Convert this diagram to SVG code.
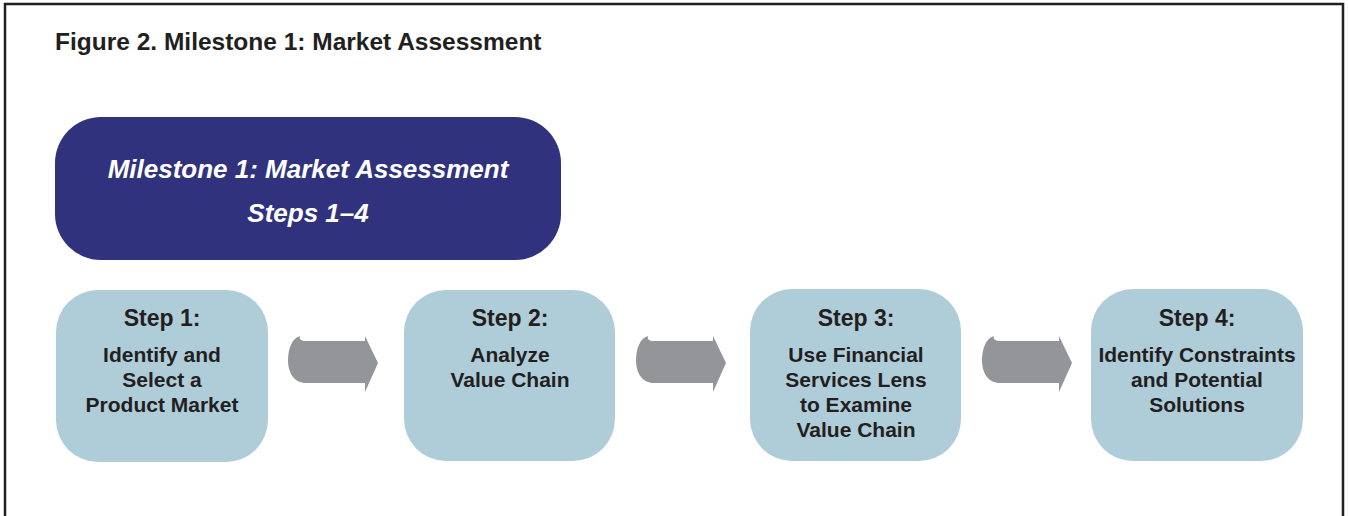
<svg xmlns="http://www.w3.org/2000/svg" width="1348" height="516" viewBox="0 0 1348 516">
<defs>
<style>
.frame{fill:none;stroke:#231f20;stroke-width:2.5}
.title{font-family:"Liberation Sans",Arial,sans-serif;font-weight:bold;font-size:24.5px;fill:#231f20}
.ms{fill:#31327d}
.mst{font-family:"Liberation Sans",Arial,sans-serif;font-weight:bold;font-style:italic;font-size:26px;fill:#ffffff;text-anchor:middle}
.step{fill:#afcdd9}
.st{font-family:"Liberation Sans",Arial,sans-serif;font-weight:bold;font-size:21px;fill:#231f20;text-anchor:middle}
.sh{font-size:23px}
.arr{fill:#939598}
</style>
<path id="arrow" d="M12,0 C4,2 0,13 0,24 C0,38 7,47 18,47 L77,47 L77,56 L90,27 L77,0 L77,5 L18,5 C13,5 11,3 12,0 Z"/>
</defs>
<rect width="1348" height="516" fill="#ffffff"/>
<path class="frame" d="M5,520 L5,4 L1343,4 L1343,520"/>
<text class="title" x="55" y="50">Figure 2. Milestone 1: Market Assessment</text>

<g id="milestone">
<rect class="ms" x="55" y="117" width="506" height="143" rx="46" ry="46"/>
<text class="mst" x="308" y="178">Milestone 1: Market Assessment</text>
<text class="mst" x="308" y="222">Steps 1–4</text>
</g>

<g id="step1">
<rect class="step" x="56" y="290" width="212" height="172" rx="42" ry="42"/>
<text class="st sh" x="162" y="326">Step 1:</text>
<text class="st" x="162" y="362">Identify and</text>
<text class="st" x="162" y="387">Select a</text>
<text class="st" x="162" y="412">Product Market</text>
</g>

<g id="step2">
<rect class="step" x="404" y="290" width="211" height="171" rx="42" ry="42"/>
<text class="st sh" x="510" y="326">Step 2:</text>
<text class="st" x="510" y="362">Analyze</text>
<text class="st" x="510" y="387">Value Chain</text>
</g>

<g id="step3">
<rect class="step" x="750" y="289" width="211" height="172" rx="42" ry="42"/>
<text class="st sh" x="856" y="326">Step 3:</text>
<text class="st" x="856" y="362">Use Financial</text>
<text class="st" x="856" y="387">Services Lens</text>
<text class="st" x="856" y="412">to Examine</text>
<text class="st" x="856" y="437">Value Chain</text>
</g>

<g id="step4">
<rect class="step" x="1091" y="289" width="212" height="172" rx="42" ry="42"/>
<text class="st sh" x="1197" y="326">Step 4:</text>
<text class="st" x="1197" y="362">Identify Constraints</text>
<text class="st" x="1197" y="387">and Potential</text>
<text class="st" x="1197" y="412">Solutions</text>
</g>

<g id="connectors">
<use href="#arrow" class="arr" x="288" y="336"/>
<use href="#arrow" class="arr" x="636" y="336"/>
<use href="#arrow" class="arr" x="982" y="336"/>
</g>
</svg>
